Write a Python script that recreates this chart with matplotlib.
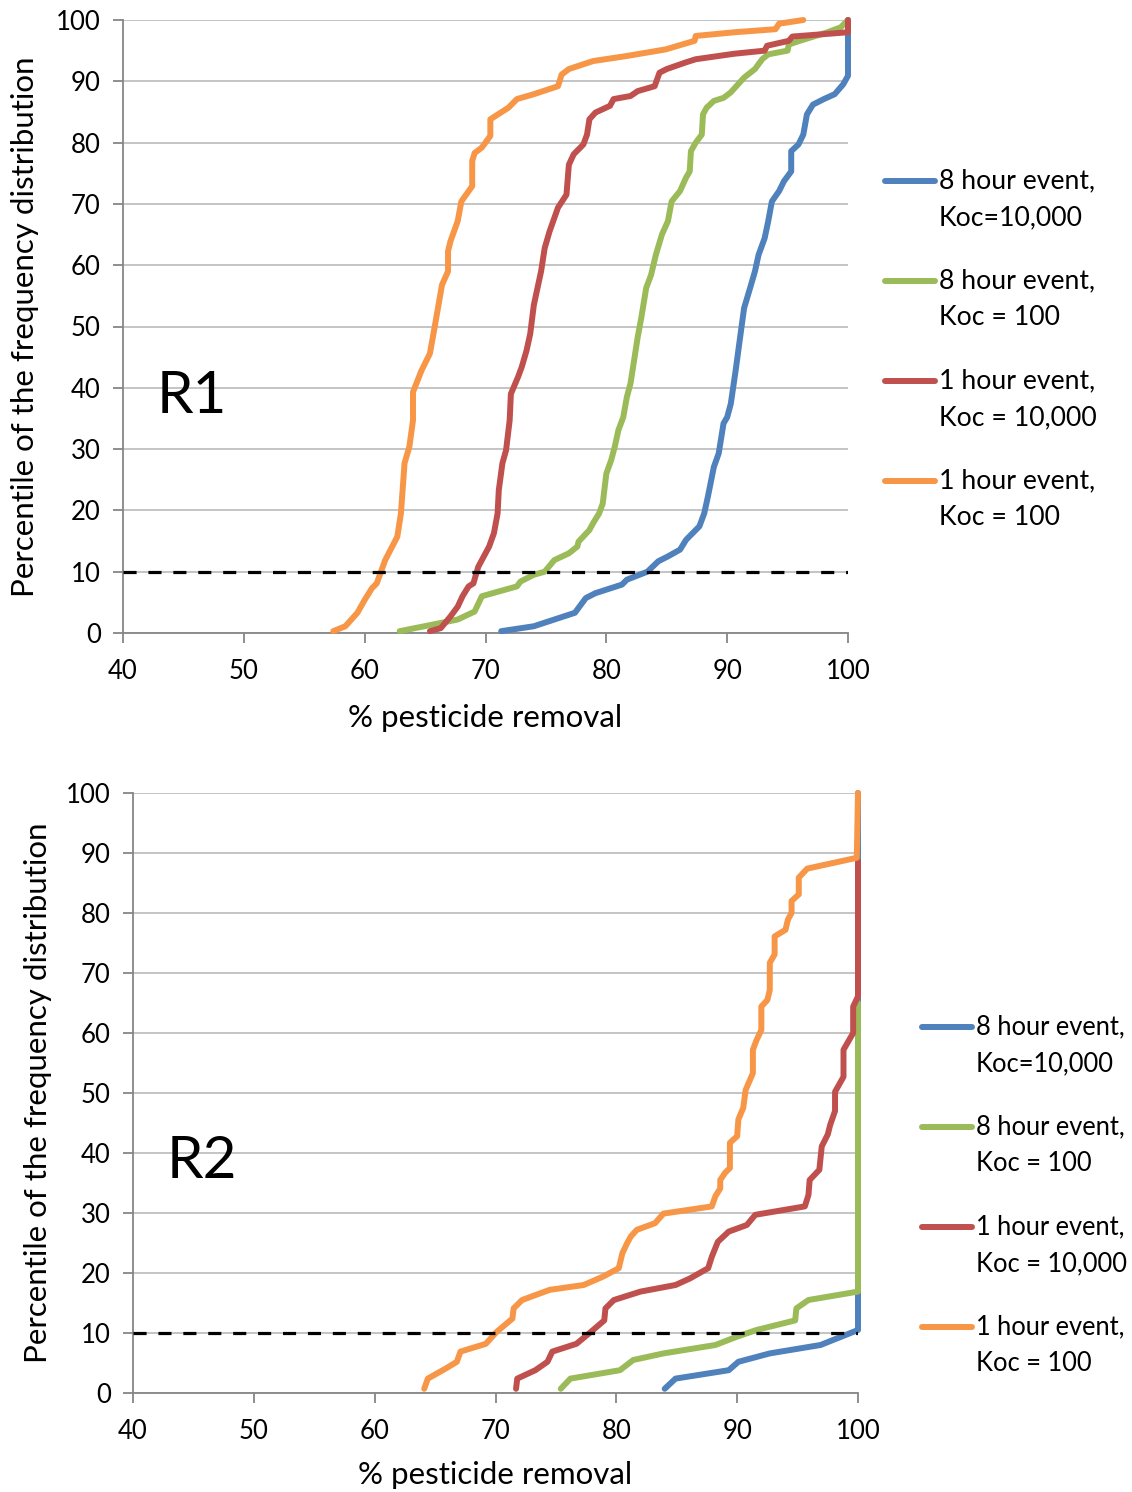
import matplotlib
matplotlib.use("Agg")
import matplotlib.pyplot as plt
from matplotlib.lines import Line2D

plt.rcParams['font.family'] = ['Lato', 'DejaVu Sans']

# colours of the four scenarios (Excel palette)
colours = ['#4F81BD', '#9BBB59', '#C0504D', '#F79646']
labels = ['8 hour event,\nKoc=10,000', '8 hour event,\nKoc = 100',
          '1 hour event,\nKoc = 10,000', '1 hour event,\nKoc = 100']

# ---- R1 : % removal (x) vs percentile (y) ----
r1_blue_x = [71.3, 74.0, 75.7, 77.4, 78.3, 79.1, 81.3, 81.7, 83.4, 84.3, 85.1, 86.1, 86.6, 87.7,
             88.1, 88.4, 88.9, 89.3, 89.7, 90.0, 90.3, 90.7, 91.0, 91.4, 91.9, 92.3, 92.6, 93.1,
             93.4, 93.7, 94.3, 94.7, 95.3, 95.3, 95.9, 96.3, 96.6, 97.1, 98.0, 98.9, 99.6, 100, 100]
r1_blue_y = [0.3, 1.1, 2.2, 3.3, 5.7, 6.5, 7.9, 8.7, 10.0, 11.7, 12.5, 13.6, 15.2, 17.4,
             19.5, 22.2, 27.1, 29.3, 34.2, 35.2, 37.4, 42.8, 47.2, 53.0, 56.3, 59.0, 61.7, 64.4,
             67.2, 70.4, 72.1, 73.7, 75.3, 78.6, 79.7, 81.3, 84.6, 86.2, 87.1, 87.9, 89.5, 90.9, 100]

r1_green_x = [62.9, 65.7, 67.7, 69.1, 69.7, 70.6, 72.6, 72.9, 74.0, 74.9, 75.7, 76.9, 77.6, 77.7,
              78.6, 78.9, 79.4, 79.7, 80.0, 80.4, 80.7, 81.0, 81.4, 81.7, 82.0, 82.3, 82.6, 82.9,
              83.3, 83.7, 84.1, 84.6, 85.1, 85.4, 86.1, 86.6, 86.9, 87.0, 87.4, 87.9, 88.0, 88.3,
              88.9, 89.7, 90.3, 91.4, 92.3, 92.9, 93.4, 95.0, 95.1, 96.0, 98.3, 99.4, 100]
r1_green_y = [0.3, 1.4, 2.2, 3.5, 6.0, 6.5, 7.6, 8.4, 9.5, 10.0, 11.9, 13.0, 14.1, 14.9,
              16.8, 17.9, 19.5, 21.1, 26.0, 28.2, 30.4, 33.1, 35.2, 38.5, 40.7, 44.5, 48.3, 51.5,
              56.3, 58.4, 61.7, 65.0, 67.2, 70.4, 72.1, 74.3, 75.3, 78.6, 80.0, 81.3, 84.6, 85.7,
              86.8, 87.3, 88.2, 90.6, 92.0, 93.6, 94.4, 95.0, 96.0, 96.6, 98.0, 98.8, 100]

r1_red_x = [65.4, 66.3, 67.1, 67.7, 68.1, 68.6, 69.0, 69.4, 70.3, 70.7, 71.0, 71.1, 71.4, 71.7,
            72.0, 72.1, 72.7, 73.0, 73.4, 73.7, 74.0, 74.6, 74.9, 75.3, 76.0, 76.7, 76.9, 77.3,
            78.1, 78.4, 78.6, 79.1, 80.3, 80.6, 82.0, 82.6, 84.0, 84.4, 85.0, 86.6, 87.4, 90.6,
            93.1, 93.3, 95.1, 95.4, 100, 100]
r1_red_y = [0.3, 0.8, 2.7, 4.3, 6.0, 7.6, 8.1, 10.8, 14.1, 16.3, 19.5, 23.3, 27.7, 29.8,
            34.7, 39.0, 41.8, 43.4, 46.1, 48.8, 53.5, 59.0, 62.8, 65.5, 69.4, 71.5, 76.4, 78.1,
            79.7, 81.3, 83.8, 84.9, 86.0, 87.1, 87.6, 88.4, 89.2, 91.4, 92.0, 93.1, 93.6, 94.5,
            95.0, 95.8, 96.6, 97.3, 98.0, 100]

r1_orange_x = [57.4, 58.4, 59.4, 60.0, 60.6, 61.0, 61.7, 62.7, 63.0, 63.1, 63.3, 63.7, 64.0, 64.0,
               64.7, 65.4, 65.8, 66.4, 66.9, 66.9, 67.1, 67.7, 68.0, 68.9, 68.9, 69.1, 69.7, 70.4,
               70.4, 71.9, 72.6, 74.0, 76.0, 76.3, 76.9, 78.9, 81.6, 84.9, 87.3, 87.4, 90.6, 94.0,
               94.3, 96.3]
r1_orange_y = [0.3, 1.1, 3.3, 5.4, 7.3, 8.1, 11.9, 15.7, 19.5, 22.2, 27.7, 30.4, 34.7, 39.3,
               42.8, 45.6, 50.0, 56.8, 59.0, 62.3, 63.9, 67.2, 70.4, 72.9, 77.0, 78.3, 79.2, 81.1,
               83.8, 85.7, 87.1, 87.9, 89.2, 91.1, 92.0, 93.3, 94.1, 95.2, 96.6, 97.4, 98.0, 98.5,
               99.4, 100]

# ---- R2 ----
r2_blue_x = [84.0, 84.9, 89.3, 90.1, 92.7, 96.9, 100, 100]
r2_blue_y = [0.7, 2.4, 3.8, 5.2, 6.6, 8.0, 10.5, 100]

r2_green_x = [75.4, 76.2, 80.3, 81.4, 83.9, 88.2, 90.0, 91.6, 94.8, 94.9, 95.9, 100, 100]
r2_green_y = [0.7, 2.4, 3.8, 5.5, 6.6, 8.0, 9.4, 10.5, 12.1, 14.1, 15.5, 16.9, 65.0]

r2_red_x = [71.7, 71.8, 73.3, 74.3, 74.7, 76.7, 77.9, 79.0, 79.1, 79.8, 82.0, 84.9, 86.1, 87.6,
            87.9, 88.4, 89.3, 90.8, 91.5, 95.6, 95.9, 96.0, 96.8, 97.0, 97.5, 97.7, 98.1, 98.1,
            98.8, 98.8, 99.6, 99.6, 100, 100]
r2_red_y = [0.7, 2.4, 3.8, 5.2, 6.9, 8.2, 10.2, 12.1, 14.1, 15.5, 16.9, 18.0, 19.1, 20.8,
            22.7, 25.2, 26.9, 28.0, 29.7, 31.1, 33.0, 35.5, 37.2, 41.1, 43.1, 44.7, 47.0, 50.2,
            52.7, 57.2, 60.0, 64.4, 66.1, 88.7]

r2_orange_x = [64.1, 64.4, 65.9, 66.8, 67.1, 69.2, 70.1, 71.4, 71.5, 72.2, 74.5, 77.3, 78.9, 80.2,
               80.5, 80.9, 81.2, 81.7, 83.2, 83.9, 87.9, 88.2, 88.6, 88.6, 89.0, 89.4, 89.4, 90.0,
               90.1, 90.5, 90.7, 91.3, 91.3, 91.6, 92.0, 92.0, 92.5, 92.7, 92.7, 93.1, 93.1, 94.0,
               94.2, 94.5, 94.5, 95.1, 95.1, 95.8, 99.9, 100]
r2_orange_y = [0.7, 2.4, 4.1, 5.2, 6.9, 8.2, 10.2, 12.4, 14.1, 15.5, 17.2, 18.0, 19.4, 20.8,
               23.3, 25.0, 26.1, 27.2, 28.3, 29.9, 31.1, 32.8, 34.1, 35.5, 36.7, 37.5, 41.7, 42.8,
               45.6, 47.5, 50.5, 53.3, 57.2, 58.8, 60.5, 64.4, 65.5, 67.2, 71.7, 73.1, 76.1, 77.2,
               78.9, 80.0, 82.0, 83.1, 85.9, 87.4, 89.2, 100]

panels = [
    ('R1', [(r1_blue_x, r1_blue_y), (r1_green_x, r1_green_y), (r1_red_x, r1_red_y), (r1_orange_x, r1_orange_y)]),
    ('R2', [(r2_blue_x, r2_blue_y), (r2_green_x, r2_green_y), (r2_red_x, r2_red_y), (r2_orange_x, r2_orange_y)]),
]

W, H = 1132, 1492
fig = plt.figure(figsize=(W / 100, H / 100), dpi=100)

# axes boxes in pixels: left, top, right, bottom
boxes = [(123, 20, 848, 633), (133, 793, 858, 1393)]
legend_pos = [(885, 181), (922, 1027)]   # left of legend line, y of first entry
legend_size = [19.2, 18.4]
ylabel_x = [25, 38]
xlabel_y = [718, 1475]

for (name, series), (l, t, r, b), (lx, ly), lfs, yx, xy in zip(panels, boxes, legend_pos, legend_size,
                                                             ylabel_x, xlabel_y):
    ax = fig.add_axes([l / W, 1 - b / H, (r - l) / W, (b - t) / H])
    for (xs, ys), c in zip(series, colours):
        ax.plot(xs, ys, color=c, lw=4.3, solid_joinstyle='round', solid_capstyle='round',
                clip_on=False, zorder=3)
    ax.axhline(10, color='black', lw=2.3, dashes=(4.1, 3.7), zorder=4)

    ax.set_xlim(40, 100)
    ax.set_ylim(0, 100)
    ax.set_xticks(range(40, 101, 10))
    ax.set_yticks(range(0, 101, 10))
    ax.grid(axis='y', color='#BFBFBF', lw=1.3)
    ax.set_axisbelow(True)
    for s in ['top', 'right']:
        ax.spines[s].set_visible(False)
    for s in ['left', 'bottom']:
        ax.spines[s].set_color('#868686')
        ax.spines[s].set_linewidth(1.3)
    ax.tick_params(axis='both', colors='#868686', labelcolor='black', labelsize=18.5,
                   width=1.3, length=7)
    ax.tick_params(axis='x', pad=12)
    ax.tick_params(axis='y', pad=9)

    ax.text(0.047, 0.385, name, transform=ax.transAxes, fontsize=42,
            ha='left', va='center')

    fig.text(yx / W, 1 - ((t + b) / 2) / H, 'Percentile of the frequency distribution',
             rotation=90, ha='center', va='center', fontsize=22.5)
    fig.text(((l + r) / 2) / W, 1 - xy / H, '% pesticide removal',
             ha='center', va='center', fontsize=22.5)

    # legend drawn by hand so the key line sits on the first text line
    for i, (c, lab) in enumerate(zip(colours, labels)):
        yy = ly + i * 100
        fig.add_artist(Line2D([lx / W, (lx + 50) / W], [1 - yy / H, 1 - yy / H],
                              color=c, lw=4.3, solid_capstyle='round'))
        fig.text((lx + 54) / W, 1 - (yy - 13) / H, lab, ha='left', va='top',
                 fontsize=lfs, linespacing=1.6)

fig.savefig('out.png', dpi=100)
